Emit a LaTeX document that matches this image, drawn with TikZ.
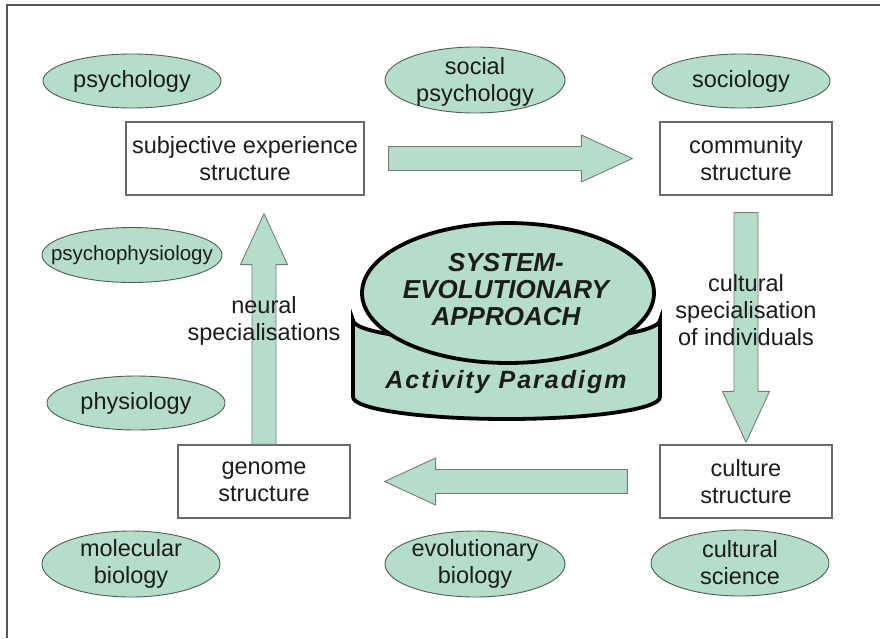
\documentclass[tikz,border=0pt]{standalone}
\usepackage{fontspec}
\setmainfont{Liberation Sans}
\usetikzlibrary{shapes.geometric,calc}

\definecolor{sage}{RGB}{180,222,201}
\definecolor{fieldedge}{RGB}{80,92,86}
\definecolor{boxline}{RGB}{105,105,105}
\definecolor{arrowline}{RGB}{120,125,122}
\definecolor{ink}{RGB}{28,28,28}
\definecolor{framegray}{RGB}{85,85,85}

\newcommand\labelfont{\fontsize{23.5}{27}\selectfont}
\newcommand\smalllabelfont{\fontsize{20.5}{23}\selectfont}
\newcommand\corefont{\fontsize{26}{27}\selectfont\bfseries\itshape}

% block arrow from tail #1 to tip #2, head base stored as coordinate #3
\newcommand\blockarrowpath[3]{%
  \coordinate (#3) at ($(#2)!51pt!(#1)$);
  \draw[blockarrow]
    ($(#1)!12pt!90:(#2)$) -- ($(#3)!12pt!90:(#2)$) --
    ($(#3)!23.5pt!90:(#2)$) -- (#2) --
    ($(#3)!23.5pt!-90:(#2)$) -- ($(#3)!12pt!-90:(#2)$) --
    ($(#1)!12pt!-90:(#2)$) -- cycle;
}

\begin{document}
\begin{tikzpicture}[x=1pt,y=-1pt,
  field/.style={ellipse, draw=fieldedge, line width=0.9pt, fill=sage,
    inner sep=0pt, minimum width=178pt, minimum height=54pt},
  tallfield/.style={field, minimum height=66pt},
  fieldtext/.style={text=ink, align=center, font=\labelfont, inner sep=0pt},
  struct/.style={rectangle, draw=boxline, line width=1.2pt, fill=white,
    text=ink, align=center, font=\labelfont, inner sep=0pt,
    minimum width=172pt, minimum height=73pt},
  blockarrow/.style={draw=arrowline, line width=0.9pt, fill=sage, line join=miter},
  note/.style={text=ink, align=center, font=\labelfont, inner sep=0pt},
  core/.style={draw=black, line width=3.8pt, fill=sage},
  frameline/.style={draw=framegray, line width=1.3pt},
]
\useasboundingbox (0,0) rectangle (880,638);

% page frame
\draw[frameline] (7,638) -- (7,5) -- (880,5);

% structures
\node[struct, minimum width=238pt] (subj) at (245,158.5) {subjective experience\\structure};
\node[struct] (comm) at (746,158.5) {community\\structure};
\node[struct] (genome) at (264,481.5) {genome\\structure};
\node[struct] (culture) at (746,481.5) {culture\\structure};

% disciplines
\node[field] (psy) at (132,81) {};
\node[fieldtext] (psy-t) at (psy) {psychology};
\node[tallfield, minimum width=180pt] (socpsy) at (475,80) {};
\node[fieldtext] (socpsy-t) at ($(socpsy)+(0,2)$) {social\\psychology};
\node[field] (soc) at (741,81) {};
\node[fieldtext] (soc-t) at (soc) {sociology};
\node[field, minimum width=180pt, minimum height=55pt] (psyphys) at (132,255) {};
\node[fieldtext, font=\smalllabelfont] (psyphys-t) at (psyphys) {psychophysiology};
\node[field] (phys) at (136,403) {};
\node[fieldtext] (phys-t) at (phys) {physiology};
\node[tallfield] (molbio) at (131,564) {};
\node[fieldtext] (molbio-t) at (molbio) {molecular\\biology};
\node[tallfield, minimum width=180pt] (evobio) at (475,564) {};
\node[fieldtext] (evobio-t) at (evobio) {evolutionary\\biology};
\node[tallfield] (cultsci) at (740,563) {};
\node[fieldtext] (cultsci-t) at (cultsci) {cultural\\science};

% transitions between structures
\coordinate (r-tail) at ($(subj.east)+(24,0)$);
\coordinate (r-tip) at ($(comm.west)+(-27,0)$);
\blockarrowpath{r-tail}{r-tip}{r-base}

\coordinate (d-tail) at ($(comm.south)+(0,17)$);
\coordinate (d-tip) at ($(culture.north)+(0,-2)$);
\blockarrowpath{d-tail}{d-tip}{d-base}

\coordinate (l-tail) at ($(culture.west)+(-32,0)$);
\coordinate (l-tip) at ($(genome.east)+(34,0)$);
\blockarrowpath{l-tail}{l-tip}{l-base}

\coordinate (u-tail) at (genome.north);
\coordinate (u-tip) at ($(genome.north |- subj.south)+(0,18)$);
\blockarrowpath{u-tail}{u-tip}{u-base}

\node[note] (neural) at (264,321) {neural\\specialisations};
\node[note] (cultspec) at (746,310) {cultural\\specialisation\\of individuals};

% central can: band first, then the lid
\draw[core] (353,320) -- (353,397)
  arc[start angle=180, end angle=360, x radius=153.5pt, y radius=22pt]
  -- (660,320)
  arc[start angle=0, end angle=-180, x radius=153.5pt, y radius=22pt] -- cycle;
\node[core, ellipse, minimum width=292pt, minimum height=140pt, inner sep=0pt] (approach) at (508,293) {};
\node[text=ink, align=center, font=\corefont, inner sep=0pt] (approach-t) at (506,290)
  {SYSTEM-\\EVOLUTIONARY\\APPROACH};
\node[text=ink, inner sep=0pt, font={\fontsize{25}{27}\selectfont\bfseries\itshape\addfontfeature{LetterSpace=8}}]
  (paradigm) at (506,382) {Activity Paradigm};
\end{tikzpicture}
\end{document}
